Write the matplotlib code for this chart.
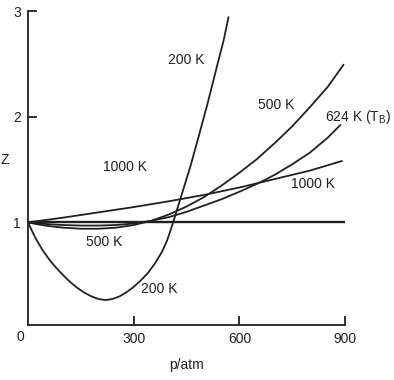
# Factor de compresion Z frente a presion para distintas temperaturas
import matplotlib.pyplot as plt

plt.rcParams['font.family'] = ['Liberation Sans', 'DejaVu Sans']

# datos
p_200 = [0, 20, 40, 60, 80, 100, 120, 140, 160, 180, 200, 220, 240, 260, 280,
         300, 320, 340, 360, 380, 395, 410, 435, 460, 485, 510, 535, 555, 569]
z_200 = [1.0, 0.86, 0.745, 0.65, 0.57, 0.50, 0.435, 0.38, 0.335, 0.30, 0.275, 0.265,
         0.275, 0.30, 0.34, 0.39, 0.45, 0.52, 0.61, 0.72, 0.83, 0.98, 1.25, 1.52,
         1.82, 2.13, 2.46, 2.72, 2.94]

p_500 = [0, 30, 60, 100, 150, 200, 250, 300, 350, 400, 450, 500, 550, 600,
         650, 700, 750, 800, 850, 895]
z_500 = [1.0, 0.98, 0.965, 0.95, 0.94, 0.94, 0.95, 0.975, 1.015, 1.075, 1.15,
         1.24, 1.35, 1.47, 1.60, 1.75, 1.91, 2.09, 2.28, 2.49]

p_624 = [0, 50, 100, 150, 200, 250, 300, 350, 400, 450, 500, 550, 600, 650,
         700, 750, 800, 850, 886]
z_624 = [1.0, 0.985, 0.975, 0.97, 0.97, 0.975, 0.99, 1.015, 1.05, 1.10, 1.16,
         1.22, 1.29, 1.365, 1.45, 1.55, 1.66, 1.80, 1.92]

p_1000 = [0, 100, 200, 300, 400, 500, 600, 700, 800, 890]
z_1000 = [1.0, 1.045, 1.095, 1.145, 1.20, 1.26, 1.33, 1.41, 1.49, 1.58]

p_ideal = [0, 900]
z_ideal = [1.0, 1.0]

x_ticks = [300, 600, 900]
y_ticks = [1, 2, 3]

tinta = '#231f20'

fig = plt.figure(figsize=(3.94, 3.80), dpi=100)
ax = fig.add_axes([0.071, 0.145, 0.805, 0.826])

# curvas
ax.plot(p_ideal, z_ideal, color=tinta, lw=1.7, solid_capstyle='butt')
for p, z in [(p_1000, z_1000), (p_624, z_624), (p_500, z_500), (p_200, z_200)]:
    ax.plot(p, z, color=tinta, lw=1.3, solid_joinstyle='round')

# etiquetas de las curvas
fs = 10
ax.text(449, 2.54, '200 K', fontsize=fs, color=tinta, ha='center', va='center')
ax.text(703, 2.11, '500 K', fontsize=fs, color=tinta, ha='center', va='center')
ax.text(842, 2.00, '624 K (T$_\\mathregular{B}$)', fontsize=fs, color=tinta, ha='left', va='center')
ax.text(808, 1.36, '1000 K', fontsize=fs, color=tinta, ha='center', va='center')
ax.text(275, 1.52, '1000 K', fontsize=fs, color=tinta, ha='center', va='center')
ax.text(215, 0.81, '500 K', fontsize=fs, color=tinta, ha='center', va='center')
ax.text(372, 0.37, '200 K', fontsize=fs, color=tinta, ha='center', va='center')

# ejes
ax.set_xlim(0, 900)
ax.set_ylim(0.03, 3.0)
ax.spines['top'].set_visible(False)
ax.spines['right'].set_visible(False)
for lado in ['left', 'bottom']:
    ax.spines[lado].set_linewidth(1.3)
    ax.spines[lado].set_color(tinta)
ax.set_xticks(x_ticks)
ax.set_yticks(y_ticks)
ax.tick_params(direction='in', length=6.5, width=1.3, color=tinta,
               labelsize=fs, labelcolor=tinta)
ax.tick_params(axis='x', pad=5)
ax.tick_params(axis='y', pad=5)
fig.text(20 / 394, 1 - 337 / 380, '0', fontsize=fs, color=tinta,
         ha='center', va='center')

ax.set_xlabel('p/atm', fontsize=fs, color=tinta, labelpad=9)
fig.text(0.013, 0.58, 'Z', fontsize=fs, color=tinta, ha='center', va='center')

fig.savefig('out.png', dpi=100)
